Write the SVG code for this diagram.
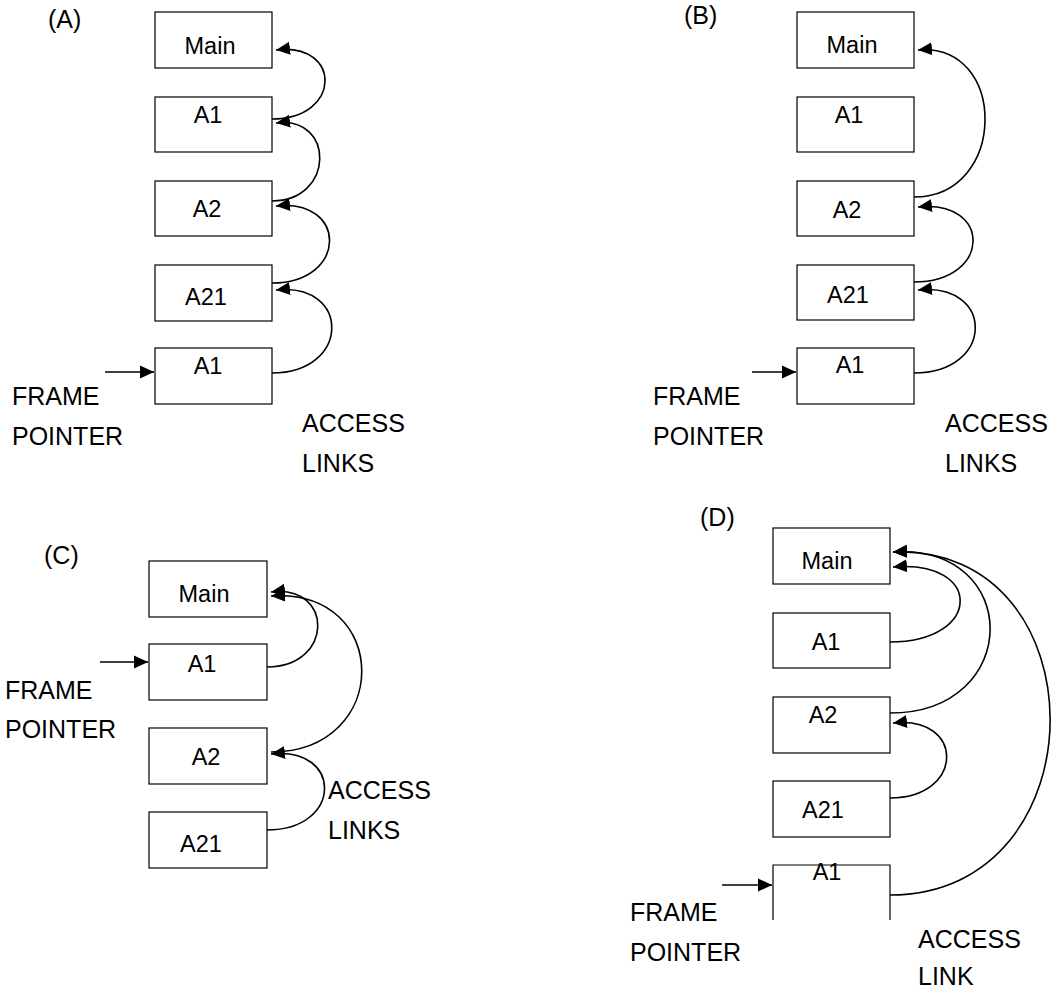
<svg xmlns="http://www.w3.org/2000/svg" width="1056" height="990" viewBox="0 0 1056 990">
<style>
.box{fill:#fff;stroke:#000;stroke-width:1.2}
.t{font-family:"Liberation Sans",Arial,sans-serif;font-size:23.5px;fill:#000;text-anchor:middle}
.l{font-family:"Liberation Sans",Arial,sans-serif;font-size:25px;fill:#000}
.c{fill:none;stroke:#000;stroke-width:1.6;marker-end:url(#ah)}
</style>
<defs>
<marker id="ah" markerUnits="userSpaceOnUse" markerWidth="16" markerHeight="14" refX="14" refY="7" orient="auto">
<path d="M0,0.5 L14,7 L0,13.5 z" fill="#000"/>
</marker>
</defs>
<rect width="1056" height="990" fill="#fff"/>

<!-- Panel A -->
<g id="panelA">
<text class="l" x="48" y="28">(A)</text>
<g id="A-main"><rect class="box" x="155" y="12" width="117" height="56"/><text class="t" x="210" y="54">Main</text></g>
<g id="A-a1"><rect class="box" x="155" y="97" width="117" height="55"/><text class="t" x="208" y="123">A1</text></g>
<g id="A-a2"><rect class="box" x="155" y="181" width="117" height="55"/><text class="t" x="207" y="217">A2</text></g>
<g id="A-a21"><rect class="box" x="155" y="265" width="117" height="56"/><text class="t" x="206" y="305">A21</text></g>
<g id="A-a1b"><rect class="box" x="155" y="348" width="117" height="56"/><text class="t" x="208" y="374">A1</text></g>
<text class="l" x="12" y="405">FRAME</text>
<text class="l" x="12" y="445">POINTER</text>
<text class="l" x="302" y="432">ACCESS</text>
<text class="l" x="302" y="472">LINKS</text>
</g>

<!-- Panel B -->
<g id="panelB">
<text class="l" x="684" y="24">(B)</text>
<g id="B-main"><rect class="box" x="797" y="12" width="117" height="56"/><text class="t" x="852" y="53">Main</text></g>
<g id="B-a1"><rect class="box" x="797" y="97" width="117" height="55"/><text class="t" x="849" y="123">A1</text></g>
<g id="B-a2"><rect class="box" x="797" y="181" width="117" height="55"/><text class="t" x="847" y="218">A2</text></g>
<g id="B-a21"><rect class="box" x="797" y="265" width="117" height="55"/><text class="t" x="848" y="303">A21</text></g>
<g id="B-a1b"><rect class="box" x="797" y="348" width="117" height="56"/><text class="t" x="850" y="373">A1</text></g>
<text class="l" x="653" y="405">FRAME</text>
<text class="l" x="653" y="445">POINTER</text>
<text class="l" x="945" y="432">ACCESS</text>
<text class="l" x="945" y="472">LINKS</text>
</g>

<!-- Panel C -->
<g id="panelC">
<text class="l" x="44" y="564">(C)</text>
<g id="C-main"><rect class="box" x="149" y="561" width="118" height="56"/><text class="t" x="204" y="602">Main</text></g>
<g id="C-a1"><rect class="box" x="149" y="644" width="118" height="56"/><text class="t" x="202" y="672">A1</text></g>
<g id="C-a2"><rect class="box" x="149" y="728" width="118" height="56"/><text class="t" x="206" y="765">A2</text></g>
<g id="C-a21"><rect class="box" x="149" y="812" width="118" height="56"/><text class="t" x="201" y="852">A21</text></g>
<text class="l" x="5" y="699">FRAME</text>
<text class="l" x="5" y="738">POINTER</text>
<text class="l" x="328" y="799">ACCESS</text>
<text class="l" x="328" y="839">LINKS</text>
</g>

<!-- Panel D -->
<g id="panelD">
<text class="l" x="700" y="526">(D)</text>
<g id="D-main"><rect class="box" x="773" y="528" width="117" height="56"/><text class="t" x="827" y="569">Main</text></g>
<g id="D-a1"><rect class="box" x="773" y="613" width="117" height="55"/><text class="t" x="826" y="650">A1</text></g>
<g id="D-a2"><rect class="box" x="773" y="697" width="117" height="56"/><text class="t" x="823" y="723">A2</text></g>
<g id="D-a21"><rect class="box" x="773" y="781" width="117" height="56"/><text class="t" x="823" y="818">A21</text></g>
<g id="D-a1b"><path d="M773,920 V865 H890 V920" fill="#fff" stroke="#000" stroke-width="1.2"/><text class="t" x="827" y="880">A1</text></g>
<text class="l" x="630" y="921">FRAME</text>
<text class="l" x="630" y="961">POINTER</text>
<text class="l" x="918" y="948">ACCESS</text>
<text class="l" x="918" y="985">LINK</text>
</g>

<g id="connectors">
<!-- frame pointers -->
<path class="c" d="M105,372 H154"/>
<path class="c" d="M752,372 H796"/>
<path class="c" d="M100,662 H148"/>
<path class="c" d="M722,885 H772"/>
<!-- A -->
<path class="c" d="M272,119 C342,119 342,42 276,50"/>
<path class="c" d="M272,201 C335,201 335,115 276,123"/>
<path class="c" d="M272,283 C348,283 348,198 276,206"/>
<path class="c" d="M272,373 C351,373 351,282 276,290"/>
<!-- B -->
<path class="c" d="M914,197 C1008,197 1008,42 918,50"/>
<path class="c" d="M914,282 C992,282 992,199 918,207"/>
<path class="c" d="M914,373 C995,373 995,282 918,290"/>
<!-- C -->
<path class="c" d="M267,667 C334,667 334,584 271,592"/>
<path class="c" d="M271,752 C392,752 392,588 271,596"/>
<path class="c" d="M267,830 C343,830 343,746 271,754"/>
<!-- D -->
<path class="c" d="M890,642 C983,642 983,559 893,567"/>
<path class="c" d="M890,713 C1023,713 1023,544 893,552"/>
<path class="c" d="M890,798 C965,798 965,715 893,723"/>
<path class="c" d="M890,895 C1103,895 1103,544 893,552"/>
</g>
</svg>
